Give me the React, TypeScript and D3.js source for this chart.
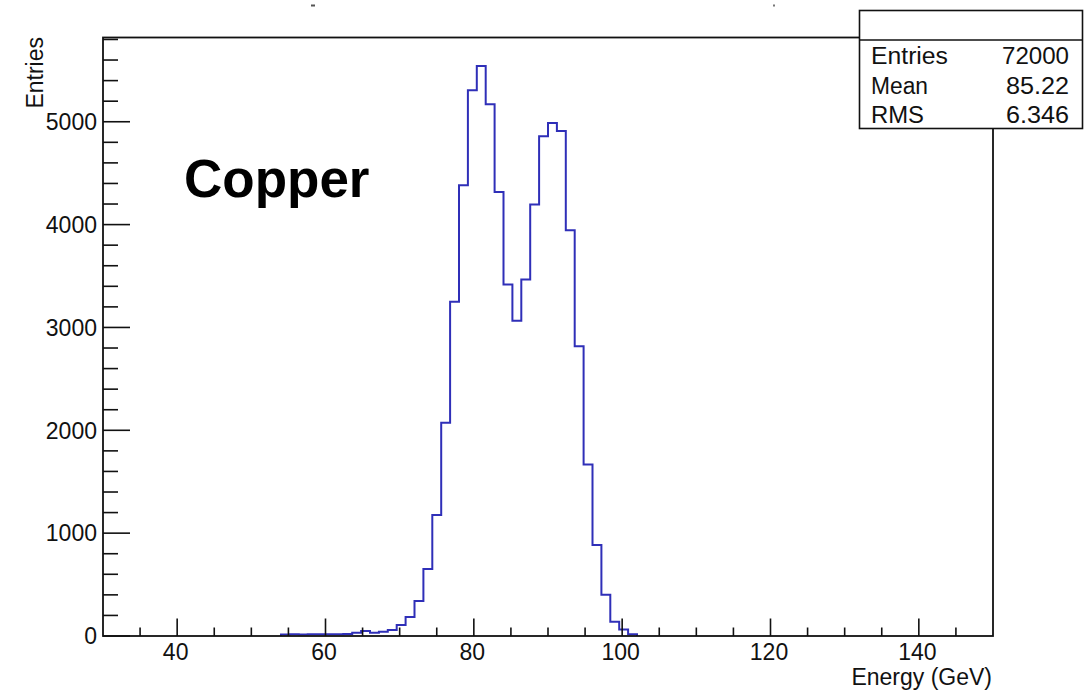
import React from "react";
import * as d3 from "d3";

// Histogram: 100 bins from 30 to 150 GeV (bin width 1.2); only non-empty bins listed
const binLowEdges = [
  54.0, 55.2, 56.4, 57.6, 58.8, 60.0, 61.2, 62.4, 63.6, 64.8,
  66.0, 67.2, 68.4, 69.6, 70.8, 72.0, 73.2, 74.4, 75.6, 76.8,
  78.0, 79.2, 80.4, 81.6, 82.8, 84.0, 85.2, 86.4, 87.6, 88.8,
  90.0, 91.2, 92.4, 93.6, 94.8, 96.0, 97.2, 98.4, 99.6, 100.8,
];
const binWidth = 1.2;
const binCounts = [
  14, 16, 15, 17, 16, 18, 17, 19, 32, 48,
  32, 42, 58, 107, 185, 340, 651, 1176, 2073, 3249,
  4383, 5306, 5542, 5170, 4318, 3418, 3064, 3466, 4195, 4859,
  4988, 4911, 3946, 2818, 1668, 884, 402, 139, 62, 17,
];

const xDomain = [30, 150];
const xMajorTicks = [40, 60, 80, 100, 120, 140];
const xMinorTicks = [35, 45, 50, 55, 65, 70, 75, 85, 90, 95, 105, 110, 115, 125, 130, 135, 145];
const yMajorTicks = [0, 1000, 2000, 3000, 4000, 5000];
const yMinorTicks = [200, 400, 600, 800, 1200, 1400, 1600, 1800, 2200, 2400, 2600, 2800, 3200, 3400, 3600, 3800, 4200, 4400, 4600, 4800, 5200, 5400, 5600, 5800];

const statsLabels = ["Entries", "Mean", "RMS"];
const statsValues = ["72000", "85.22", "6.346"];

const xTitle = "Energy (GeV)";
const yTitle = "Entries";
const annotation = "Copper";

const FONT = "'Liberation Sans', Arial, Helvetica, sans-serif";
const INK = "#111";

export default function App() {
  const W = 1086, H = 694;
  const left = 103, right = 993, top = 37.5, bottom = 636;

  const x = d3.scaleLinear().domain(xDomain).range([left, right]);
  const yMax = (d3.max(binCounts) as number) * 1.05;
  const y = d3.scaleLinear().domain([0, yMax]).range([bottom, top]);

  // step path
  const pts: [number, number][] = [];
  pts.push([x(binLowEdges[0]), y(0)]);
  binLowEdges.forEach((lo, i) => {
    pts.push([x(lo), y(binCounts[i])]);
    pts.push([x(lo + binWidth), y(binCounts[i])]);
  });
  pts.push([x(binLowEdges[binLowEdges.length - 1] + binWidth), y(0)]);
  const pathD = d3.line()(pts) as string;

  const statX = 859.5, statY = 10.5, statW = 223, statH = 118;
  const statRowBase = [64, 93.5, 122.5];
  const statLabelWidths = [77, 57, 53];
  const statValueWidths = [67, 63, 63];

  return (
    <svg width={W} height={H} style={{ position: "absolute", left: 0, top: 0, background: "#fff" }}>
      <rect x={0} y={0} width={W} height={H} fill="#fff" />
      {/* tiny remnants at top */}
      <rect x={311} y={4.5} width={4} height={2} fill="#555" />
      <rect x={773} y={4.5} width={2} height={2} fill="#777" />

      {/* histogram */}
      <path d={pathD} fill="none" stroke="#2f2fb8" strokeWidth={2} strokeLinejoin="miter" />

      {/* frame */}
      <rect x={left} y={top} width={right - left} height={bottom - top} fill="none" stroke={INK} strokeWidth={1.8} />

      {/* x ticks */}
      {xMajorTicks.map((t) => (
        <line key={"xM" + t} x1={x(t)} x2={x(t)} y1={bottom} y2={bottom - 17.5} stroke={INK} strokeWidth={1.6} />
      ))}
      {xMinorTicks.map((t) => (
        <line key={"xm" + t} x1={x(t)} x2={x(t)} y1={bottom} y2={bottom - 8.5} stroke={INK} strokeWidth={1.6} />
      ))}
      {xMajorTicks.map((t) => (
        <text key={"xl" + t} x={x(t) - 1.5} y={660} textAnchor="middle" fontFamily={FONT} fontSize={23} fill={INK}>
          {t}
        </text>
      ))}

      {/* y ticks */}
      {yMajorTicks.map((t) => (
        <line key={"yM" + t} x1={left} x2={left + 27} y1={y(t)} y2={y(t)} stroke={INK} strokeWidth={1.6} />
      ))}
      {yMinorTicks.map((t) => (
        <line key={"ym" + t} x1={left} x2={left + 15} y1={y(t)} y2={y(t)} stroke={INK} strokeWidth={1.6} />
      ))}
      {yMajorTicks.map((t) => (
        <text key={"yl" + t} x={97} y={y(t)} dy="0.36em" textAnchor="end" fontFamily={FONT} fontSize={23} fill={INK}>
          {t}
        </text>
      ))}

      {/* axis titles */}
      <text x={992} y={685} textAnchor="end" fontFamily={FONT} fontSize={23} fill={INK}>
        {xTitle}
      </text>
      <text transform="translate(43,37) rotate(-90)" textAnchor="end" fontFamily={FONT} fontSize={23} fill={INK}>
        {yTitle}
      </text>

      {/* annotation */}
      <text x={184} y={197} fontFamily={FONT} fontSize={53} fontWeight="bold" fill="#000">
        {annotation}
      </text>

      {/* stats box */}
      <rect x={statX} y={statY} width={statW} height={statH} fill="#fff" stroke={INK} strokeWidth={1.6} />
      <line x1={statX} x2={statX + statW} y1={40} y2={40} stroke={INK} strokeWidth={1.6} />
      {statsLabels.map((s, i) => (
        <text key={"sl" + s} x={871} y={statRowBase[i]} fontFamily={FONT} fontSize={23} fill={INK}
          textLength={statLabelWidths[i]} lengthAdjust="spacingAndGlyphs">
          {s}
        </text>
      ))}
      {statsValues.map((s, i) => (
        <text key={"sv" + s} x={1069 - statValueWidths[i]} y={statRowBase[i]} fontFamily={FONT} fontSize={23} fill={INK}
          textLength={statValueWidths[i]} lengthAdjust="spacingAndGlyphs">
          {s}
        </text>
      ))}
    </svg>
  );
}
